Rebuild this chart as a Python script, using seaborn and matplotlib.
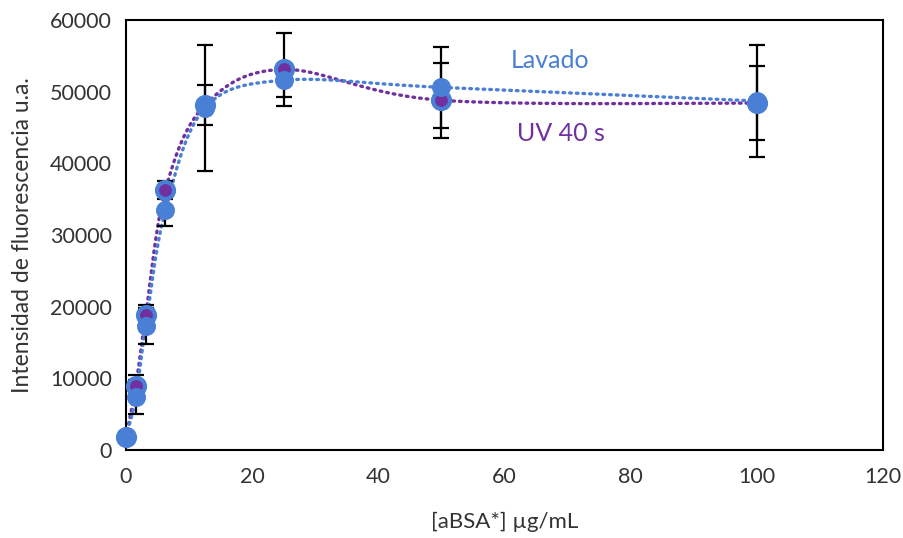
import numpy as np
import pandas as pd
import matplotlib
matplotlib.use("Agg")
import matplotlib.pyplot as plt
import seaborn as sns

# Concentraciones (µg/mL) y medias de intensidad
conc = [0, 1.5625, 3.125, 6.25, 12.5, 25, 50, 100]
lavado = [1800, 7400, 17300, 33500, 47700, 51600, 50600, 48700]
lavado_err = [0, 2400, 2500, 2200, 8800, 2300, 5600, 7800]
uv40 = [1800, 9000, 18800, 36300, 48100, 53100, 48800, 48400]
uv40_err = [0, 1500, 1500, 1300, 2800, 5100, 5200, 5200]

COL_LAV = "#4a7fd6"
COL_UV = "#7030a0"
TXT = "#333333"

X_SCALE = 6.3          # px por unidad de x
Y_SCALE = 71.7 / 10000  # px por unidad de y


def smooth_curve(xs, ys, n=40):
    """Curva suavizada tipo Excel (Catmull-Rom / Bezier) en espacio de pantalla."""
    px = np.asarray(xs, float) * X_SCALE
    py = np.asarray(ys, float) * Y_SCALE
    pts = np.column_stack([px, py])
    pts = np.vstack([pts[0], pts, pts[-1]])
    out = []
    t = np.linspace(0, 1, n)[:, None]
    for i in range(1, len(pts) - 2):
        p0, p1, p2, p3 = pts[i - 1], pts[i], pts[i + 1], pts[i + 2]
        c1 = p1 + (p2 - p0) / 6
        c2 = p2 - (p3 - p1) / 6
        seg = ((1 - t) ** 3) * p1 + 3 * ((1 - t) ** 2) * t * c1 + 3 * (1 - t) * t ** 2 * c2 + t ** 3 * p2
        out.append(seg)
    out = np.vstack(out)
    return out[:, 0] / X_SCALE, out[:, 1] / Y_SCALE


sns.set_theme(style="white")
plt.rcParams["font.family"] = ["Lato", "DejaVu Sans"]

fig = plt.figure(figsize=(9.04, 5.38), dpi=100)
ax = fig.add_axes([126 / 904, 88 / 538, 757 / 904, 430 / 538])

series = [("UV 40 s", uv40, uv40_err, COL_UV), ("Lavado", lavado, lavado_err, COL_LAV)]

for name, vals, errs, col in series:
    sx, sy = smooth_curve(conc, vals)
    df = pd.DataFrame({"x": sx, "y": sy})
    sns.lineplot(data=df, x="x", y="y", ax=ax, sort=False, estimator=None,
                 color=col, lw=2.4, linestyle=(0, (0.5, 1.5)),
                 dash_capstyle="round", zorder=2)

for name, vals, errs, col in series:
    ax.errorbar(conc, vals, yerr=errs, fmt="none", ecolor="black",
                elinewidth=1.6, capsize=6, capthick=1.6, zorder=3)

# marcadores
pts_uv = pd.DataFrame({"x": conc, "y": uv40})
pts_lav = pd.DataFrame({"x": conc, "y": lavado})
sns.scatterplot(data=pts_uv, x="x", y="y", ax=ax, s=150, color=COL_UV,
                edgecolor=COL_LAV, linewidth=3, zorder=4)
sns.scatterplot(data=pts_lav, x="x", y="y", ax=ax, s=160, color=COL_LAV,
                edgecolor=COL_LAV, linewidth=1, zorder=5)

ax.text(67.3, 54400, "Lavado", color=COL_LAV, fontsize=18, ha="center", va="center")
ax.text(68.9, 44100, "UV 40 s", color=COL_UV, fontsize=18, ha="center", va="center")

ax.set_xlim(0, 120)
ax.set_ylim(0, 60000)
ax.set_xticks(range(0, 121, 20))
ax.set_yticks(range(0, 60001, 10000))
ax.tick_params(axis="both", labelsize=15.5, length=0, colors=TXT)
ax.tick_params(axis="x", pad=12)
ax.tick_params(axis="y", pad=10)
ax.set_xlabel("[aBSA*] µg/mL", fontsize=16, color=TXT, labelpad=18)
ax.set_ylabel("Intensidad de fluorescencia u.a.", fontsize=16.5, color=TXT, labelpad=12)
for sp in ax.spines.values():
    sp.set_visible(True)
    sp.set_color("black")
    sp.set_linewidth(1.5)
for c in ax.collections:
    c.set_clip_on(False)

fig.savefig("out.png", dpi=100)
